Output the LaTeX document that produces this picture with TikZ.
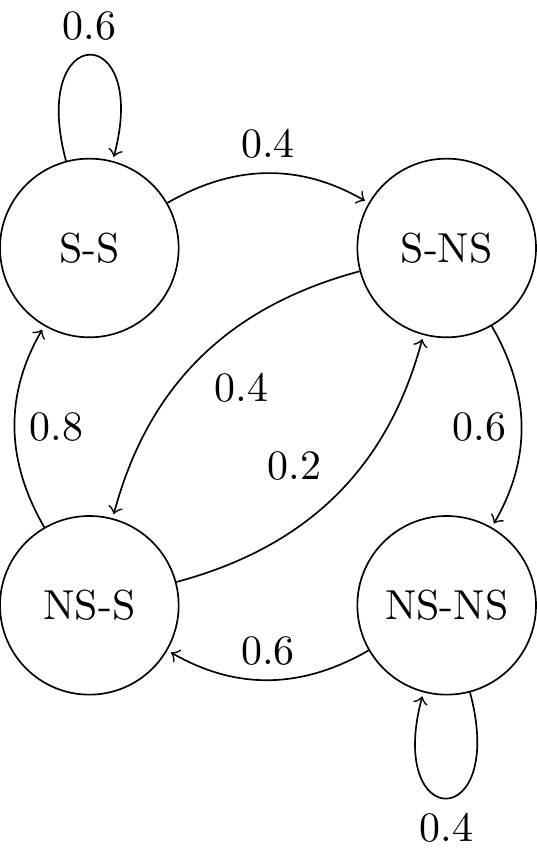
\documentclass[tikz,border=0pt]{standalone}
\begin{document}
\begin{tikzpicture}[statenode/.style={circle, draw, minimum size=1.5cm, inner sep=0pt}, trans/.style={->, shorten >=1pt}]

		\useasboundingbox (-0.75, 2.082) rectangle (3.75, -5.071);
		\node[statenode] (ss) at (0, 0) {S-S};
		\node[statenode] (sns) at (3, 0) {S-NS};
		\node[statenode] (nss) at (0, -3) {NS-S};
		\node[statenode] (nsns) at (3, -3) {NS-NS};
		\path[trans] (ss) edge[loop above] node[above] {0.6} ();
		\draw[trans] (ss) to[bend left] node[above] {0.4} (sns);
		\draw[trans] (sns) to[bend left] node[left] {0.6} (nsns);
		\draw[trans] (nsns) to[bend left] node[above] {0.6} (nss);
		\draw[trans] (nss) to[bend left] node[right] {0.8} (ss);
		\draw[trans] (sns) to[bend right] node[below right] {0.4} (nss);
		\draw[trans] (nss) to[bend right] node[above left] {0.2} (sns);
		\path[trans] (nsns) edge[loop below] node[below] {0.4} ();

\end{tikzpicture}
\end{document}
